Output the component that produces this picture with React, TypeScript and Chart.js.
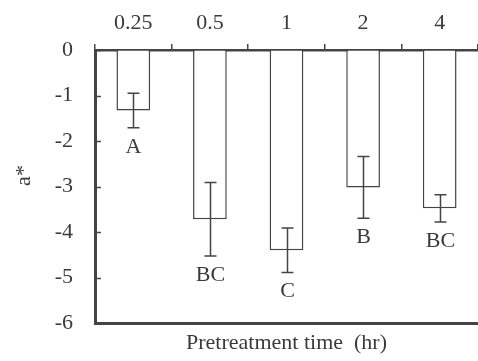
import React, { useEffect, useRef } from "react";
import { Chart, registerables } from "chart.js";

Chart.register(...registerables);

const categories = ["0.25", "0.5", "1", "2", "4"];
const means = [-1.33, -3.72, -4.4, -3.02, -3.48];
const errors = [0.38, 0.81, 0.49, 0.68, 0.3];
const letters = ["A", "BC", "C", "B", "BC"];
const yMin = -6;
const yMax = 0;

const FONT = "'Liberation Serif', 'Times New Roman', serif";
const LINE = "#444444";
const TEXT = "#3a3a3a";

const overlayPlugin = {
  id: "overlay",
  afterDatasetsDraw(chart: any) {
    const ctx = chart.ctx;
    const y = chart.scales.y;
    const area = chart.chartArea;
    const meta = chart.getDatasetMeta(0);
    ctx.save();
    // inner y ticks
    ctx.strokeStyle = LINE;
    ctx.lineWidth = 1.5;
    for (let v = yMin; v <= yMax; v++) {
      const py = Math.round(y.getPixelForValue(v)) + 0.5;
      ctx.beginPath();
      ctx.moveTo(area.left, py);
      ctx.lineTo(area.left + 6, py);
      ctx.stroke();
    }
    // error bars and letters
    meta.data.forEach((el: any, i: number) => {
      const x = Math.round(el.x) + 0.5;
      const top = y.getPixelForValue(means[i] + errors[i]);
      const bot = y.getPixelForValue(means[i] - errors[i]);
      ctx.strokeStyle = LINE;
      ctx.lineWidth = 1.5;
      ctx.beginPath();
      ctx.moveTo(x, top);
      ctx.lineTo(x, bot);
      ctx.moveTo(x - 6, top);
      ctx.lineTo(x + 6, top);
      ctx.moveTo(x - 6, bot);
      ctx.lineTo(x + 6, bot);
      ctx.stroke();
      ctx.fillStyle = TEXT;
      ctx.font = `22px ${FONT}`;
      ctx.textAlign = "center";
      ctx.textBaseline = "middle";
      ctx.fillText(letters[i], x, bot + 19);
    });
    ctx.restore();
  },
};

export default function App() {
  const ref = useRef<HTMLCanvasElement>(null);
  useEffect(() => {
    document.body.style.margin = "0";
    const chart = new Chart(ref.current!, {
      type: "bar",
      data: {
        labels: categories,
        datasets: [
          {
            data: means,
            backgroundColor: "#ffffff",
            borderColor: LINE,
            borderWidth: 1.5,
            barPercentage: 0.44,
            categoryPercentage: 1,
          },
        ],
      },
      options: {
        animation: false,
        responsive: false,
        layout: { padding: { left: 0, right: 0, top: 0, bottom: 0 } },
        plugins: { legend: { display: false }, tooltip: { enabled: false } },
        scales: {
          x: {
            position: "top",
            offset: true,
            grid: {
              offset: true,
              drawOnChartArea: false,
              drawTicks: true,
              tickLength: 6,
              color: LINE,
              lineWidth: 1.5,
            },
            border: { display: true, color: LINE, width: 2.5 },
            ticks: {
              color: TEXT,
              font: { family: FONT, size: 22 },
              padding: 8,
              maxRotation: 0,
            },
            afterFit: (s: any) => {
              s.height = 50;
            },
          },
          x2: {
            type: "category",
            position: "bottom",
            grid: { display: false },
            border: { display: true, color: LINE, width: 3 },
            ticks: { display: false },
            title: {
              display: true,
              text: "Pretreatment time  (hr)",
              color: TEXT,
              font: { family: FONT, size: 22 },
              padding: { top: 0, bottom: 5 },
            },
            afterFit: (s: any) => {
              s.height = 38;
            },
          },
          y: {
            min: yMin,
            max: yMax,
            grid: { drawOnChartArea: false, drawTicks: false },
            border: { display: true, color: LINE, width: 3 },
            ticks: {
              stepSize: 1,
              color: TEXT,
              font: { family: FONT, size: 22 },
              padding: 22,
            },
            title: {
              display: true,
              text: "    a*",
              color: TEXT,
              font: { family: FONT, size: 22 },
              padding: { top: 11, bottom: 0 },
            },
            afterFit: (s: any) => {
              s.width = 95;
            },
          },
        },
      },
      plugins: [overlayPlugin],
    });
    return () => chart.destroy();
  }, []);
  return (
    <div style={{ width: 478, height: 361 }}>
      <canvas ref={ref} width={478} height={361} />
    </div>
  );
}
